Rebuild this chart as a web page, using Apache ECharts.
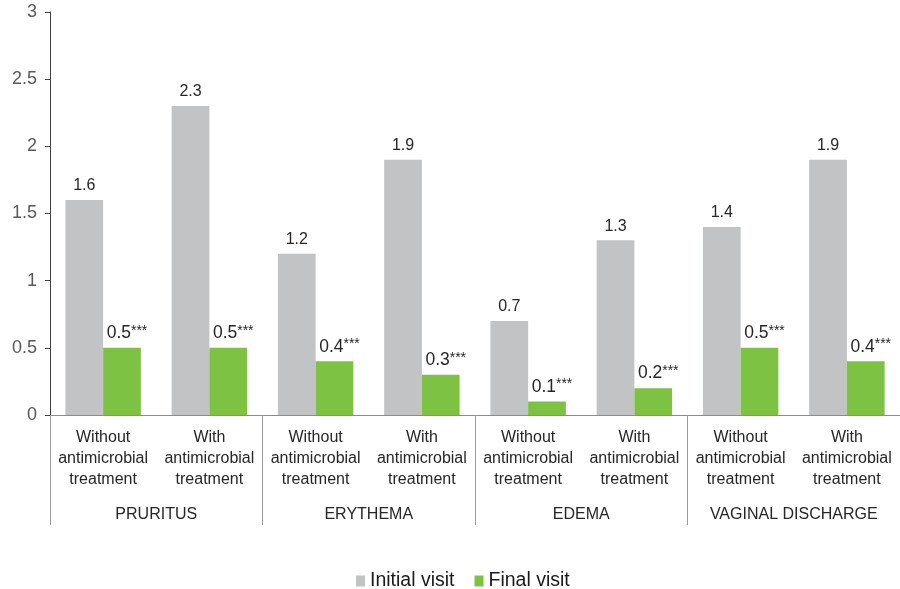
<!DOCTYPE html>
<html><head><meta charset="utf-8">
<script src="https://cdn.jsdelivr.net/npm/echarts@6/dist/echarts.min.js"></script>
<style>html,body{margin:0;padding:0;background:#fff}#c{width:900px;height:589px}</style>
</head><body><div id="c"></div>
<script>
var subCategories = ['Without\nantimicrobial\ntreatment','With\nantimicrobial\ntreatment','Without\nantimicrobial\ntreatment','With\nantimicrobial\ntreatment','Without\nantimicrobial\ntreatment','With\nantimicrobial\ntreatment','Without\nantimicrobial\ntreatment','With\nantimicrobial\ntreatment'];
var groups = ['PRURITUS','ERYTHEMA','EDEMA','VAGINAL DISCHARGE'];
var initialVisit = [1.6, 2.3, 1.2, 1.9, 0.7, 1.3, 1.4, 1.9];
var finalVisit = [0.5, 0.5, 0.4, 0.3, 0.1, 0.2, 0.5, 0.4];
var finalSignif = ['***','***','***','***','***','***','***','***'];
var yTicks = [0, 0.5, 1, 1.5, 2, 2.5, 3];

var chart = echarts.init(document.getElementById('c'));
var font = 'Liberation Sans, Arial, sans-serif';
chart.setOption({
  animation: false,
  textStyle: {fontFamily: font},
  grid: {left: 50, right: 0, top: 12, bottom: 174, containLabel: false},
  legend: {
    data: ['Initial visit','Final visit'],
    left: 351, top: 566,
    itemWidth: 9, itemHeight: 11, itemGap: 20,
    icon: 'rect',
    textStyle: {fontSize: 19.5, color: '#1a1a1a', fontFamily: font}
  },
  xAxis: [{
    type: 'category', data: subCategories, position: 'bottom',
    axisLine: {show: true, lineStyle: {color: '#8c8c8c', width: 1}},
    axisTick: {show: false},
    axisLabel: {interval: 0, fontSize: 16, color: '#262626', lineHeight: 21, margin: 12, fontFamily: font}
  }, {
    type: 'category', data: groups, position: 'bottom',
    axisLine: {show: false},
    axisTick: {show: true, length: 110, interval: 0, lineStyle: {color: '#9a9a9a'}},
    axisLabel: {interval: 0, fontSize: 16, color: '#262626', margin: 92, fontFamily: font}
  }],
  yAxis: {
    type: 'value', min: 0, max: 3, interval: 0.5,
    axisLine: {show: true, lineStyle: {color: '#404040'}},
    axisTick: {show: true, length: 5, lineStyle: {color: '#404040'}},
    splitLine: {show: false},
    axisLabel: {fontSize: 18, color: '#595959', margin: 13, fontFamily: font,
      formatter: function(v){ return yTicks.indexOf(v) >= 0 ? String(v) : ''; }}
  },
  series: [{
    name: 'Initial visit', type: 'bar', xAxisIndex: 0, data: initialVisit,
    barCategoryGap: '29%', barGap: '0%',
    itemStyle: {color: '#c1c3c5'},
    label: {show: true, position: 'top', distance: 6, fontSize: 16, color: '#262626', fontFamily: font}
  }, {
    name: 'Final visit', type: 'bar', xAxisIndex: 0, data: finalVisit,
    barCategoryGap: '29%', barGap: '0%',
    itemStyle: {color: '#7dc242'},
    label: {show: true, position: 'top', distance: 5, offset: [5, 0], fontFamily: font,
      formatter: function(p){ return '{v|' + p.value + '}{s|' + finalSignif[p.dataIndex] + '}'; },
      rich: {
        v: {fontSize: 17.5, color: '#262626', fontFamily: font},
        s: {fontSize: 14, color: '#262626', fontFamily: font, verticalAlign: 'top', padding: [0,0,5,0]}
      }
    }
  }]
});
</script></body></html>
